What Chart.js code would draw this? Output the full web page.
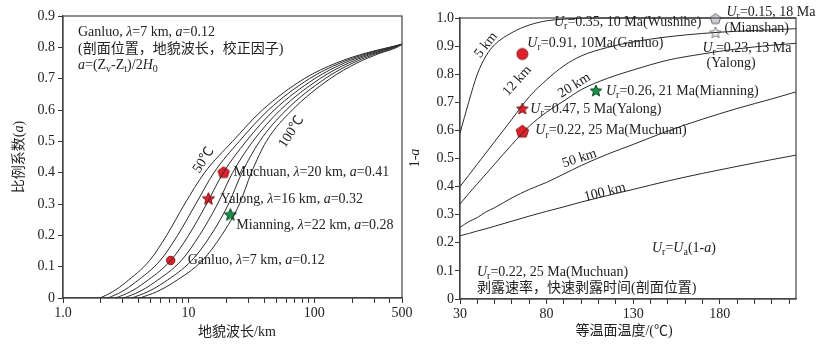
<!DOCTYPE html>
<html>
<head>
<meta charset="utf-8">
<script src="https://cdn.jsdelivr.net/npm/chart.js@4.4.1/dist/chart.umd.min.js"></script>
<style>
  body { margin: 0; background: #fff; }
  #wrap { position: relative; width: 827px; height: 350px; }
  canvas { position: absolute; top: 0; }
</style>
</head>
<body>
<div id="wrap">
  <canvas id="left" width="420" height="350" style="left:0"></canvas>
  <canvas id="right" width="427" height="350" style="left:400px"></canvas>
</div>
<script>
// ---- left panel data: correction factor a vs landform wavelength ----
const aLevels = [0, 0.02, 0.05, 0.12, 0.2, 0.3, 0.4, 0.5, 0.6, 0.7, 0.75, 0.78, 0.8, 0.81];
const lam50  = [1.97, 2.49, 3.16, 4.90, 6.69, 9.30, 13.4, 22.4, 38.7, 83.3, 150, 249, 394, 500];
const lam60  = [2.28, 2.93, 3.77, 5.95, 8.18, 11.4, 15.9, 25.3, 43.2, 91.6, 161, 263, 406, 500];
const lam70  = [2.63, 3.44, 4.49, 7.22, 10.0, 13.9, 18.9, 28.7, 48.1, 101, 174, 278, 418, 500];
const lam80  = [3.05, 4.04, 5.35, 8.77, 12.2, 17.0, 22.4, 32.5, 53.7, 111, 188, 294, 430, 500];
const lam90  = [3.53, 4.74, 6.38, 10.6, 15.0, 20.8, 26.6, 36.8, 59.9, 122, 203, 311, 443, 500];
const lam100 = [4.09, 5.57, 7.60, 12.9, 18.3, 25.4, 31.6, 41.6, 66.9, 134, 219, 328, 456, 500];

const leftSiteNames  = ['Muchuan', 'Yalong', 'Mianning', 'Ganluo'];
const leftSiteLambda = [19, 14.4, 21.5, 7.2];
const leftSiteA      = [0.40, 0.316, 0.265, 0.12];

const lamTicks = [1, 2, 3, 4, 5, 6, 7, 8, 9, 10, 20, 30, 40, 50, 60, 70, 80, 90, 100, 200, 300, 400, 500];
const lamLabels = { 1: '1.0', 10: '10', 100: '100', 500: '500' };
const aTicks = [0, 0.1, 0.2, 0.3, 0.4, 0.5, 0.6, 0.7, 0.8, 0.9];

// ---- right panel data: 1-a vs isotherm temperature ----
const tempC = [30, 35, 40, 45, 50, 60, 70, 80, 90, 100, 115, 130, 150, 170, 190, 210, 224];
const r5km   = [0.59, 0.70, 0.80, 0.865, 0.905, 0.948, 0.975, 0.99, 0.996, 0.999, 1.0, 1.0, 1.0, 1.0, 1.0, 1.0, 1.0];
const r12km  = [0.40, 0.44, 0.48, 0.52, 0.56, 0.64, 0.72, 0.78, 0.83, 0.865, 0.895, 0.915, 0.933, 0.945, 0.953, 0.958, 0.962];
const r20km  = [0.338, 0.375, 0.41, 0.445, 0.48, 0.55, 0.615, 0.665, 0.705, 0.745, 0.785, 0.815, 0.85, 0.872, 0.89, 0.903, 0.91];
const r50km  = [0.255, 0.275, 0.29, 0.31, 0.325, 0.36, 0.39, 0.415, 0.445, 0.475, 0.515, 0.55, 0.598, 0.64, 0.678, 0.712, 0.737];
const r100km = [0.225, 0.233, 0.242, 0.25, 0.259, 0.277, 0.295, 0.312, 0.328, 0.345, 0.368, 0.39, 0.42, 0.447, 0.472, 0.496, 0.512];

const rightSiteNames = ['Ganluo', 'Yalong', 'Muchuan', 'Mianning', 'Mianshan', 'Yalong13'];
const rightSiteT     = [66, 66, 66, 108.5, 177.5, 177.5];
const rightSite1a    = [0.872, 0.676, 0.595, 0.74, 0.996, 0.947];

const tempTicks = [30, 40, 50, 60, 70, 80, 90, 100, 110, 120, 130, 140, 150, 160, 170, 180, 190, 200, 210, 220];
const tempLabels = { 30: '30', 80: '80', 130: '130', 180: '180' };
const rTicks = [0, 0.1, 0.2, 0.3, 0.4, 0.5, 0.6, 0.7, 0.8, 0.9, 1.0];

// ---- drawing helpers ----
const SERIF = "'Liberation Serif', 'Noto Sans CJK SC', serif";
const INK = '#222';
Chart.defaults.font.family = SERIF;
Chart.defaults.font.size = 14;
Chart.defaults.color = INK;

// '*' toggles italic, '_x' makes x a subscript
function parseRich(str) {
  const segs = [];
  let italic = false, buf = '';
  const flush = () => { if (buf) segs.push({ t: buf, i: italic, s: false }); buf = ''; };
  for (let k = 0; k < str.length; k++) {
    const ch = str[k];
    if (ch === '*') { flush(); italic = !italic; }
    else if (ch === '_') { flush(); segs.push({ t: str[k + 1], i: false, s: true }); k++; }
    else buf += ch;
  }
  flush();
  return segs;
}

function drawRich(ctx, str, x, y, opt) {
  opt = opt || {};
  const size = opt.size || 14;
  const segs = parseRich(str);
  const fontOf = sg => (sg.i ? 'italic ' : '') + (sg.s ? Math.round(size * 0.7) : size) + 'px ' + SERIF;
  let w = 0;
  segs.forEach(sg => { ctx.font = fontOf(sg); sg.w = ctx.measureText(sg.t).width; w += sg.w; });
  ctx.save();
  ctx.translate(x, y);
  ctx.rotate((opt.angle || 0) * Math.PI / 180);
  ctx.fillStyle = INK;
  ctx.textBaseline = 'middle';
  let cx = opt.align === 'center' ? -w / 2 : opt.align === 'right' ? -w : 0;
  segs.forEach(sg => {
    ctx.font = fontOf(sg);
    ctx.fillText(sg.t, cx, sg.s ? size * 0.3 : 0);
    cx += sg.w;
  });
  ctx.restore();
}

function marker(shape, r, fill, stroke) {
  const s = Math.ceil(r * 2 + 4);
  const c = document.createElement('canvas');
  c.width = c.height = s;
  const g = c.getContext('2d');
  g.translate(s / 2, s / 2);
  g.beginPath();
  if (shape === 'circle') {
    g.arc(0, 0, r, 0, Math.PI * 2);
  } else {
    const n = shape === 'star' ? 10 : 5;
    for (let k = 0; k < n; k++) {
      const ang = -Math.PI / 2 + k * 2 * Math.PI / n;
      const rr = shape === 'star' && k % 2 ? r * 0.45 : r;
      g.lineTo(rr * Math.cos(ang), rr * Math.sin(ang));
    }
    g.closePath();
  }
  g.fillStyle = fill;
  g.fill();
  g.lineWidth = 1;
  g.strokeStyle = stroke;
  g.stroke();
  return c;
}

const RED = '#e2202b', RED_EDGE = '#7d1414';
const GREEN = '#18924a', GREEN_EDGE = '#0b4522';

const framePlugin = {
  id: 'frame',
  beforeDatasetsDraw(chart) {
    const { ctx, chartArea: a } = chart;
    ctx.save();
    ctx.strokeStyle = '#444';
    ctx.lineWidth = 1.2;
    ctx.strokeRect(a.left, a.top, a.right - a.left, a.bottom - a.top);
    ctx.restore();
  }
};

// notes: area = offset from chart area corner, data = value position, site = index into sites
function notesPlugin(notes, siteX, siteY) {
  return {
    id: 'notes',
    afterDatasetsDraw(chart) {
      const { ctx, chartArea: a, scales } = chart;
      notes.forEach(n => {
        let x, y;
        if (n.area) { x = a.left + n.area[0]; y = a.top + n.area[1]; }
        else if (n.page) { x = n.page[0]; y = n.page[1]; }
        else {
          const d = n.data || [siteX[n.site], siteY[n.site]];
          x = scales.x.getPixelForValue(d[0]);
          y = scales.y.getPixelForValue(d[1]);
        }
        if (n.off) { x += n.off[0]; y += n.off[1]; }
        drawRich(ctx, n.text, x, y, n);
      });
    }
  };
}

function curve(xs, ys) {
  return {
    data: xs.map((x, k) => ({ x: x, y: ys[k] })),
    showLine: true, pointRadius: 0, borderColor: '#2a2a2a', borderWidth: 1,
    cubicInterpolationMode: 'monotone', clip: false
  };
}
function site(x, y, img) {
  return { data: [{ x: x, y: y }], pointStyle: img, pointRadius: 6, clip: false };
}

function axis(opts) {
  return Object.assign({
    grid: { drawOnChartArea: false, tickLength: 5, color: '#333', tickWidth: 1 },
    border: { color: '#444', width: 1.2 }
  }, opts);
}

// ---- left chart ----
const leftNotes = [
  { area: [15, 16], text: 'Ganluo, *λ*=7 km, *a*=0.12' },
  { area: [15, 33], text: '(剖面位置，地貌波长，校正因子)' },
  { area: [15, 49], text: '*a*=(Z_v-Z_t)/2*H*_0' },
  { site: 0, off: [10, 0], text: 'Muchuan, *λ*=20 km, *a*=0.41' },
  { site: 1, off: [12, 0], text: 'Yalong, *λ*=16 km, *a*=0.32' },
  { site: 2, off: [6, 10], text: 'Mianning, *λ*=22 km, *a*=0.28' },
  { site: 3, off: [17, 0], text: 'Ganluo, *λ*=7 km, *a*=0.12' },
  { data: [13.2, 0.44], text: '50℃', angle: -57, align: 'center' },
  { data: [66, 0.53], text: '100℃', angle: -57, align: 'center' },
  { page: [237, 332], text: '地貌波长/km', align: 'center' },
  { page: [19, 157], text: '比例系数(*a*)', align: 'center', angle: -90 }
];

new Chart(document.getElementById('left'), {
  type: 'scatter',
  data: {
    datasets: [
      curve(lam50, aLevels), curve(lam60, aLevels), curve(lam70, aLevels),
      curve(lam80, aLevels), curve(lam90, aLevels), curve(lam100, aLevels),
      site(leftSiteLambda[0], leftSiteA[0], marker('pentagon', 6, RED, RED_EDGE)),
      site(leftSiteLambda[1], leftSiteA[1], marker('star', 6.5, RED, RED_EDGE)),
      site(leftSiteLambda[2], leftSiteA[2], marker('star', 6.5, GREEN, GREEN_EDGE)),
      site(leftSiteLambda[3], leftSiteA[3], marker('circle', 4.2, RED, RED_EDGE))
    ]
  },
  options: {
    responsive: false, animation: false, events: [],
    layout: { padding: { top: 16, right: 18, left: 0, bottom: 0 } },
    plugins: { legend: { display: false }, tooltip: { enabled: false } },
    scales: {
      x: axis({
        type: 'logarithmic', min: 1, max: 500,
        afterBuildTicks: s => { s.ticks = lamTicks.map(v => ({ value: v })); },
        afterFit: s => { s.height = 52; },
        ticks: { autoSkip: false, maxRotation: 0, padding: 2, callback: v => lamLabels[v] || '' }
      }),
      y: axis({
        min: 0, max: 0.9,
        afterBuildTicks: s => { s.ticks = aTicks.map(v => ({ value: v })); },
        afterFit: s => { s.width = 63; },
        ticks: { padding: 3, callback: v => v === 0 ? '0' : v.toFixed(1) }
      })
    }
  },
  plugins: [framePlugin, notesPlugin(leftNotes, leftSiteLambda, leftSiteA)]
});

// ---- right chart ----
const rightNotes = [
  { site: 0, off: [5, -11], text: '*U*_r=0.91, 10Ma(Ganluo)' },
  { site: 1, off: [8, 0], text: '*U*_r=0.47, 5 Ma(Yalong)' },
  { site: 2, off: [13, -1], text: '*U*_r=0.22, 25 Ma(Muchuan)' },
  { site: 3, off: [10, 0], text: '*U*_r=0.26, 21 Ma(Mianning)' },
  { site: 4, off: [-14, 3], text: '*U*_r=0.35, 10 Ma(Wushihe)', align: 'right' },
  { site: 4, off: [11, -7], text: '*U*_r=0.15, 18 Ma' },
  { site: 4, off: [9, 9], text: '(Mianshan)' },
  { site: 5, off: [-13, 15], text: '*U*_r=0.23, 13 Ma' },
  { site: 5, off: [-9, 30], text: '(Yalong)' },
  { data: [45, 0.904], text: '5 km', angle: -52, align: 'center' },
  { data: [63, 0.776], text: '12 km', angle: -48, align: 'center' },
  { data: [96, 0.76], text: '20 km', angle: -32, align: 'center' },
  { data: [99, 0.50], text: '50 km', angle: -18, align: 'center' },
  { data: [113.7, 0.38], text: '100 km', angle: -14, align: 'center' },
  { area: [192, 230], text: '*U*_r=*U*_a(1-*a*)' },
  { area: [17, 254], text: '*U*_r=0.22, 25 Ma(Muchuan)' },
  { area: [17, 270], text: '剥露速率，快速剥露时间(剖面位置)' },
  { page: [224, 331], text: '等温面温度/(℃)', align: 'center' },
  { page: [15, 158], text: '1-*a*', align: 'center', angle: -90 }
];

new Chart(document.getElementById('right'), {
  type: 'scatter',
  data: {
    datasets: [
      curve(tempC, r5km), curve(tempC, r12km), curve(tempC, r20km),
      curve(tempC, r50km), curve(tempC, r100km),
      site(rightSiteT[0], rightSite1a[0], marker('circle', 5.5, RED, RED_EDGE)),
      site(rightSiteT[1], rightSite1a[1], marker('star', 6, RED, RED_EDGE)),
      site(rightSiteT[2], rightSite1a[2], marker('pentagon', 6.5, RED, RED_EDGE)),
      site(rightSiteT[3], rightSite1a[3], marker('star', 6, GREEN, GREEN_EDGE)),
      site(rightSiteT[4], rightSite1a[4], marker('pentagon', 5.5, '#cfd0d4', '#666')),
      site(rightSiteT[5], rightSite1a[5], marker('star', 6, '#f6f6f6', '#777'))
    ]
  },
  options: {
    responsive: false, animation: false, events: [],
    layout: { padding: { top: 18, right: 31, left: 0, bottom: 0 } },
    plugins: { legend: { display: false }, tooltip: { enabled: false } },
    scales: {
      x: axis({
        type: 'linear', min: 30, max: 224,
        afterBuildTicks: s => { s.ticks = tempTicks.map(v => ({ value: v })); },
        afterFit: s => { s.height = 51; },
        ticks: { autoSkip: false, maxRotation: 0, padding: 2, callback: v => tempLabels[v] || '' }
      }),
      y: axis({
        min: 0, max: 1,
        afterBuildTicks: s => { s.ticks = rTicks.map(v => ({ value: v })); },
        afterFit: s => { s.width = 60; },
        ticks: { padding: 1, callback: v => v === 0 ? '0' : v.toFixed(1) }
      })
    }
  },
  plugins: [framePlugin, notesPlugin(rightNotes, rightSiteT, rightSite1a)]
});
</script>
</body>
</html>
